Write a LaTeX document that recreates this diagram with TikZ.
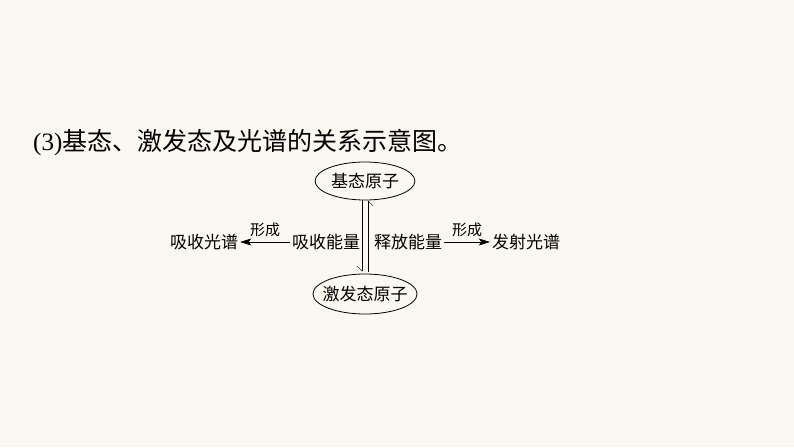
\documentclass[tikz,border=0pt]{standalone}
\usepackage{fontspec}
\setmainfont{Liberation Serif}
\newfontfamily\cjk{Noto Sans CJK SC}
\usetikzlibrary{shapes.geometric,arrows.meta}
\definecolor{paper}{RGB}{251,247,241}

\begin{document}
\begin{tikzpicture}[x=1pt,y=-1pt,
        state/.style={ellipse, draw=black, thick, inner ysep=0pt, font=\cjk\fontsize{17}{17}\selectfont},
        word/.style={inner sep=2pt, font=\cjk\fontsize{17}{17}\selectfont},
        tag/.style={inner sep=1pt, font=\cjk\fontsize{15}{15}\selectfont},
        harp/.style={-{Straight Barb[harpoon,swap,length=5pt]}},
        ]
        \fill[paper] (0,0) rectangle (794,447);
        \useasboundingbox (0,0) rectangle (794,447);

        \node (title) at (33,143) [anchor=west, inner sep=0pt, font=\fontsize{25}{25}\selectfont] {(3){\cjk 基态、激发态及光谱的关系示意图。}};

        \node (ground) at (365,181) [state, inner xsep=1.3pt, minimum height=38pt] {基态原子};
        \node (excited) at (365,294) [state, inner xsep=-5.7pt, minimum height=40pt] {激发态原子};

        \node (absorbE) at (326,242) [word] {吸收能量};
        \node (absorbS) at (204,242) [word] {吸收光谱};
        \node (emitE) at (408,242) [word] {释放能量};
        \node (emitS) at (526,242) [word] {发射光谱};

        \draw[harp] ([xshift=-3pt]ground.south) -- ([xshift=-3pt,yshift=2pt]excited.north);
        \draw[harp] ([xshift=3pt,yshift=2pt]excited.north) -- ([xshift=3pt]ground.south);
        \draw[semithick, -{Stealth[length=11pt,width=7pt,inset=2.5pt]}] (absorbE) -- node[tag, above=4pt] {形成} (absorbS);
        \draw[semithick, -{Stealth[length=11pt,width=7pt,inset=2.5pt]}] (emitE) -- node[tag, above=4pt] {形成} (emitS);

    \end{tikzpicture}
\end{document}
